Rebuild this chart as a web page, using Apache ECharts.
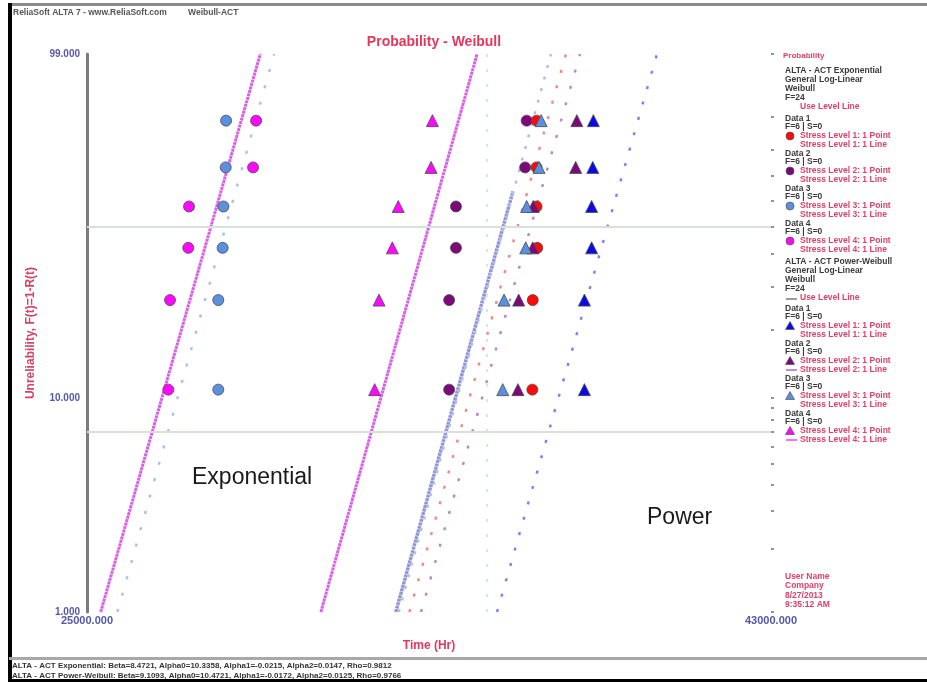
<!DOCTYPE html>
<html>
<head>
<meta charset="utf-8">
<script src="https://cdn.jsdelivr.net/npm/echarts@6/dist/echarts.min.js"></script>
<style>
html,body{margin:0;padding:0;background:#fff;}
#chart{width:927px;height:682px;}
</style>
</head>
<body>
<div id="chart"></div>
<script>
// ---------- data ----------
// median ranks (unreliability, %) of the 6 failures at each stress level
const rankF = [10.91, 26.56, 42.19, 57.81, 73.44, 89.09];
// Exponential model (circles) - failure times (Hr)
const expL1 = [36720, 36730, 36850, 36830, 36830, 36830];
const expL2 = [34530, 34530, 34710, 34710, 36530, 36570];
const expL3 = [28455, 28455, 28570, 28590, 28650, 28660];
const expL4 = [27140, 27185, 27665, 27685, 29370, 29450];
// Power model (triangles) - failure times (Hr)
const powL1 = [38090, 38090, 38280, 38280, 38310, 38325];
const powL2 = [36340, 36360, 36730, 36745, 37860, 37890];
const powL3 = [35940, 35975, 36545, 36570, 36895, 36950];
const powL4 = [32570, 32685, 33035, 33190, 34055, 34090];
// fitted lines: unreliability (%) at both ends, and time at those ends
const fitF = [1, 99];
const expFitL1 = [33485, 37605];
const expFitL2 = [33790, 37975];
const expFitL3 = [25800, 29925];
const expFitL4 = [25360, 29560];
const powFitL1 = [35790, 40000];
const powFitL3 = [33205, 37210];
const powFitL4 = [31155, 35265];
const powFitL2F = [1, 63.9];
const powFitL2 = [33125, 36210];
const useLevelT = [35525, 35525];
// axis ticks
const yLabelF = [1, 10, 99];
const yTickF = [1, 2, 3, 4, 5, 6, 7, 8, 9, 10, 20, 30, 40, 50, 60, 70, 80, 90, 99];
const gridF = [7, 50];
const xLabels = [25000, 43000];
const xMin = 25000, xMax = 43000;

// Weibull probability transform
const w = F => Math.log(-Math.log(1 - F / 100));
const pts = (ts, Fs) => ts.map((t, i) => [t, w(Fs[i])]);

const chart = echarts.init(document.getElementById('chart'), null, {renderer: 'canvas'});

const C = {
  red: '#ff0a0a', purple: '#7c087c', blue: '#5b8fe0', magenta: '#ff08ff',
  dblue: '#0a0ae6', title: '#e2385e', axisLbl: '#5656a8', dark: '#3a3a3a'
};
const FONT = '"Liberation Sans", Arial, sans-serif';

function pointSeries(data, color, symbol, size) {
  return {
    type: 'scatter', data: pts(data, rankF), symbol: symbol, symbolSize: size,
    itemStyle: {color: color, borderColor: '#4a4a4a', borderWidth: 0.8, opacity: 1},
    z: 5, silent: true
  };
}
function lineSeries(ts, Fs, color, width, dash, opacity) {
  return {
    type: 'line', data: pts(ts, Fs), symbol: 'none', silent: true,
    lineStyle: {color: color, width: width, type: dash, opacity: opacity === undefined ? 1 : opacity},
    z: 3
  };
}

const series = [
  // horizontal grid lines
  {
    type: 'line', data: [], silent: true,
    markLine: {
      symbol: 'none', silent: true, label: {show: false},
      lineStyle: {color: '#d6e2d6', width: 2, type: 'solid'},
      data: gridF.map(f => ({yAxis: w(f)}))
    }
  },
  lineSeries(useLevelT, fitF, '#cfe8cf', 2, [3, 12], 0.9),
  lineSeries(expFitL4, fitF, '#d862e6', 3, [3, 0.6]),
  lineSeries(expFitL3, fitF, '#a9c2ec', 2.5, [3, 14]),
  lineSeries(expFitL1, fitF, '#f08a8a', 2.5, [3, 13]),
  lineSeries(expFitL2, fitF, '#b68cc8', 2.5, [3, 14]),
  lineSeries(powFitL4, fitF, '#d862e6', 3, [3, 0.6]),
  lineSeries(powFitL2, powFitL2F, '#9494d6', 3.5, [3, 0.6]),
  lineSeries(powFitL3, fitF, '#a9c2ec', 2.5, [3, 9]),
  lineSeries(powFitL1, fitF, '#8080f0', 2.5, [3, 13]),
  pointSeries(expL4, C.magenta, 'circle', 11),
  pointSeries(expL3, C.blue, 'circle', 11),
  pointSeries(expL2, C.purple, 'circle', 11),
  pointSeries(expL1, C.red, 'circle', 11),
  pointSeries(powL4, C.magenta, 'triangle', 12),
  pointSeries(powL2, C.purple, 'triangle', 12),
  pointSeries(powL3, C.blue, 'triangle', 12),
  pointSeries(powL1, C.dblue, 'triangle', 12),
  // right-side probability ticks
  {type: 'line', yAxisIndex: 1, data: [], silent: true}
];

// ---------- legend (custom) ----------
const g = [];
const txt = (x, y, s, color, size) => g.push({
  type: 'text', left: x, top: y - 5, silent: true,
  style: {text: s, fill: color, font: 'bold ' + (size || 8.5) + 'px ' + FONT}
});
const circ = (x, y, color) => g.push({type: 'circle', silent: true, shape: {cx: x, cy: y, r: 4},
  style: {fill: color, stroke: '#555', lineWidth: 0.7}});
const tri = (x, y, color) => g.push({type: 'polygon', silent: true,
  shape: {points: [[x, y - 4.5], [x + 4.5, y + 3.5], [x - 4.5, y + 3.5]]},
  style: {fill: color, stroke: '#555', lineWidth: 0.7}});
const seg = (x, y, color) => g.push({type: 'line', silent: true, shape: {x1: x - 5, y1: y, x2: x + 6, y2: y},
  style: {stroke: color, lineWidth: 2}});

const red = '#e0406a';
txt(783, 57, 'Probability', red, 8);
txt(785, 71, 'ALTA - ACT Exponential', C.dark);
txt(785, 80, 'General Log-Linear', C.dark);
txt(785, 89, 'Weibull', C.dark);
txt(785, 98, 'F=24', C.dark);
txt(800, 107, 'Use Level Line', red);
const expLeg = [[C.red, 119, '1'], [C.purple, 154, '2'], [C.blue, 189, '3'], [C.magenta, 224, '4']];
expLeg.forEach(([col, y, n]) => {
  txt(785, y, 'Data ' + n, C.dark);
  txt(785, y + 8, 'F=6 | S=0', C.dark);
  circ(790, y + 17, col);
  txt(800, y + 17, 'Stress Level ' + n + ': 1 Point', red);
  txt(800, y + 26, 'Stress Level ' + n + ': 1 Line', red);
});
txt(785, 262, 'ALTA - ACT Power-Weibull', C.dark);
txt(785, 271, 'General Log-Linear', C.dark);
txt(785, 280, 'Weibull', C.dark);
txt(785, 289, 'F=24', C.dark);
seg(791, 299, '#9a9a9a');
txt(800, 298, 'Use Level Line', red);
const powLeg = [[C.dblue, 309, '1', null], [C.purple, 344, '2', '#c090d0'], [C.blue, 379, '3', null], [C.magenta, 414, '4', '#ff70ff']];
powLeg.forEach(([col, y, n, lc]) => {
  txt(785, y, 'Data ' + n, C.dark);
  txt(785, y + 8, 'F=6 | S=0', C.dark);
  tri(790, y + 17, col);
  txt(800, y + 17, 'Stress Level ' + n + ': 1 Point', red);
  if (lc) seg(791, y + 26, lc);
  txt(800, y + 26, 'Stress Level ' + n + ': 1 Line', red);
});
txt(785, 577, 'User Name', red);
txt(785, 586, 'Company', red);
txt(785, 596, '8/27/2013', red);
txt(785, 605, '9:35:12 AM', red);

// annotations
g.push({type: 'text', left: 192, top: 466, silent: true,
  style: {text: 'Exponential', fill: '#1a1a1a', font: '23px ' + FONT}});
g.push({type: 'text', left: 647, top: 506, silent: true,
  style: {text: 'Power', fill: '#1a1a1a', font: '23px ' + FONT}});
// header / footer texts
g.push({type: 'text', left: 13, top: 8, silent: true,
  style: {text: 'ReliaSoft ALTA 7 - www.ReliaSoft.com         Weibull-ACT', fill: '#555', font: 'bold 8.5px ' + FONT}});
g.push({type: 'text', left: 12, top: 662, silent: true,
  style: {text: 'ALTA - ACT Exponential: Beta=8.4721, Alpha0=10.3358, Alpha1=-0.0215, Alpha2=0.0147, Rho=0.9812', fill: '#333', font: 'bold 8px ' + FONT}});
g.push({type: 'text', left: 12, top: 672, silent: true,
  style: {text: 'ALTA - ACT Power-Weibull: Beta=9.1093, Alpha0=10.4721, Alpha1=-0.0172, Alpha2=0.0125, Rho=0.9766', fill: '#333', font: 'bold 8px ' + FONT}});
// frame
g.push({type: 'rect', silent: true, shape: {x: 9, y: 3, width: 918, height: 3}, style: {fill: '#8a8a8a'}});
g.push({type: 'rect', silent: true, shape: {x: 8, y: 3, width: 4, height: 679}, style: {fill: '#000'}});
g.push({type: 'rect', silent: true, shape: {x: 9, y: 657, width: 918, height: 3}, style: {fill: '#a8a8a8'}});
g.push({type: 'rect', silent: true, shape: {x: 9, y: 679, width: 918, height: 3}, style: {fill: '#000'}});

const option = {
  animation: false,
  backgroundColor: '#fff',
  title: {
    text: 'Probability - Weibull', left: 429, top: 30, textAlign: 'center',
    textStyle: {color: C.title, fontSize: 14, fontWeight: 'bold', fontFamily: 'Liberation Sans'}
  },
  grid: {left: 87, right: 156, top: 54, bottom: 70, containLabel: false},
  xAxis: {
    type: 'value', min: xMin, max: xMax,
    name: 'Time (Hr)', nameLocation: 'middle', nameGap: 28,
    nameTextStyle: {color: C.title, fontSize: 12, fontWeight: 'bold', fontFamily: 'Liberation Sans'},
    axisLine: {show: false}, axisTick: {show: false}, splitLine: {show: false},
    axisLabel: {customValues: xLabels, formatter: v => v.toFixed(3), color: C.axisLbl,
      fontSize: 11, fontWeight: 'bold', fontFamily: 'Liberation Sans', margin: 3}
  },
  yAxis: [{
    type: 'value', min: w(1), max: w(99),
    name: 'Unreliability, F(t)=1-R(t)', nameLocation: 'middle', nameGap: 50, nameRotate: 90,
    nameTextStyle: {color: '#d44468', fontSize: 12, fontWeight: 'bold', fontFamily: 'Liberation Sans'},
    axisLine: {show: true, lineStyle: {color: '#7c7c7c', width: 3}},
    axisTick: {show: false}, splitLine: {show: false},
    axisLabel: {customValues: yLabelF.map(w),
      formatter: v => (100 * (1 - Math.exp(-Math.exp(v)))).toFixed(3),
      color: C.axisLbl, fontSize: 10, fontWeight: 'bold', fontFamily: 'Liberation Sans', margin: 7}
  }, {
    type: 'value', position: 'right', min: w(1), max: w(99),
    axisLine: {show: false}, splitLine: {show: false}, axisLabel: {show: false},
    axisTick: {show: true, customValues: yTickF.map(w), length: 3, lineStyle: {color: '#707070', width: 1.5}}
  }],
  series: series,
  graphic: g
};
chart.setOption(option);
</script>
</body>
</html>
